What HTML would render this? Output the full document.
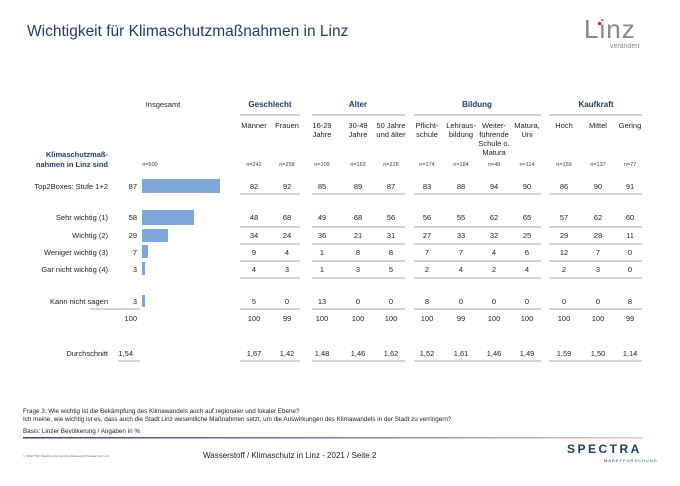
<!DOCTYPE html>
<html><head><meta charset="utf-8"><style>
body{margin:0;background:#fff;width:680px;height:481px;overflow:hidden}
svg text{font-family:"Liberation Sans",sans-serif}
</style></head><body>
<svg width="680" height="481" viewBox="0 0 680 481" xmlns="http://www.w3.org/2000/svg">
<defs><linearGradient id="g" x1="0" x2="1"><stop offset="0" stop-color="#2d4a7c"/><stop offset="0.6" stop-color="#8a8fb0"/><stop offset="1" stop-color="#e8c8d0"/></linearGradient></defs>
<text x="27" y="36" font-size="15.5" fill="#1f3b6e">Wichtigkeit für Klimaschutzmaßnahmen in Linz</text>
<text x="584" y="38" font-size="26" fill="#888" letter-spacing="1">Linz</text>
<rect x="598" y="22" width="3" height="3" fill="#d0206a"/>
<text x="610" y="48" font-size="7" fill="#888">verändert</text>

<g font-size="8" fill="#1f3b6e" font-weight="bold" text-anchor="middle">
<text x="270" y="107">Geschlecht</text><text x="358" y="107">Alter</text><text x="477" y="107">Bildung</text><text x="596" y="107">Kaufkraft</text>
</g>
<text x="163" y="107" font-size="7.5" fill="#222" text-anchor="middle">Insgesamt</text>
<g stroke="#aaa" stroke-width="1">
<line x1="240" x2="300" y1="115" y2="115"/><line x1="312" x2="405" y1="115" y2="115"/><line x1="414" x2="541" y1="115" y2="115"/><line x1="549" x2="642" y1="115" y2="115"/>
</g>
<g font-size="7.5" fill="#222" text-anchor="middle">
<text x="254" y="128">Männer</text><text x="287" y="128">Frauen</text>
<text x="322" y="128">16-29</text><text x="322" y="137">Jahre</text>
<text x="358" y="128">30-49</text><text x="358" y="137">Jahre</text>
<text x="391" y="128">50 Jahre</text><text x="391" y="137">und älter</text>
<text x="427" y="128">Pflicht-</text><text x="427" y="137">schule</text>
<text x="461" y="128">Lehraus-</text><text x="461" y="137">bildung</text>
<text x="494" y="128">Weiter-</text><text x="494" y="137">führende</text><text x="494" y="146">Schule o.</text><text x="494" y="155">Matura</text>
<text x="527" y="128">Matura,</text><text x="527" y="137">Uni</text>
<text x="564" y="128">Hoch</text><text x="598" y="128">Mittel</text><text x="630" y="128">Gering</text>
</g>
<g font-size="7.5" fill="#1f3b6e" font-weight="bold" text-anchor="end">
<text x="108" y="157">Klimaschutzmaß-</text><text x="108" y="167">nahmen in Linz sind</text>
</g>
<g font-size="5.5" fill="#444" text-anchor="middle">
<text x="150" y="166">n=500</text>
<text x="254" y="166">n=242</text><text x="287" y="166">n=258</text><text x="322" y="166">n=109</text><text x="358" y="166">n=163</text><text x="391" y="166">n=228</text><text x="427" y="166">n=174</text><text x="461" y="166">n=184</text><text x="494" y="166">n=48</text><text x="527" y="166">n=114</text><text x="564" y="166">n=159</text><text x="598" y="166">n=137</text><text x="630" y="166">n=77</text>
</g>
<g font-size="7.5" fill="#222" text-anchor="end">
<text x="108" y="189">Top2Boxes: Stufe 1+2</text>
<text x="108" y="220">Sehr wichtig (1)</text>
<text x="108" y="238">Wichtig (2)</text>
<text x="108" y="255">Weniger wichtig (3)</text>
<text x="108" y="272">Gar nicht wichtig (4)</text>
<text x="108" y="304">Kann nicht sagen</text>
<text x="108" y="356">Durchschnitt</text>
<text x="137" y="189">87</text><text x="137" y="220">58</text><text x="137" y="238">29</text><text x="137" y="255">7</text><text x="137" y="272">3</text><text x="137" y="304">3</text><text x="137" y="321">100</text><text x="133" y="356">1,54</text>
</g>
<g fill="#7ea6d6">
<rect x="142" y="179" width="78" height="14"/>
<rect x="142" y="210" width="52" height="15"/>
<rect x="142" y="229" width="26" height="13"/>
<rect x="142" y="245" width="6" height="13"/>
<rect x="142" y="262" width="3" height="13"/>
<rect x="142" y="295" width="3" height="12"/>
</g>
<g stroke="#aaa" stroke-width="1">
<line x1="90" x2="140" y1="309" y2="309"/><line x1="118" x2="140" y1="361" y2="361"/>
<g id="ln">
<line x1="240" x2="300" y1="194" y2="194"/><line x1="312" x2="405" y1="194" y2="194"/><line x1="414" x2="541" y1="194" y2="194"/><line x1="549" x2="642" y1="194" y2="194"/>
</g>
<use href="#ln" y="33"/><use href="#ln" y="50"/><use href="#ln" y="67"/><use href="#ln" y="84"/><use href="#ln" y="115"/><use href="#ln" y="167"/>
</g>
<g font-size="7.5" fill="#222" text-anchor="middle">
<g transform="translate(0,189)"><text x="254">82</text><text x="287">92</text><text x="322">85</text><text x="358">89</text><text x="391">87</text><text x="427">83</text><text x="461">88</text><text x="494">94</text><text x="527">90</text><text x="564">86</text><text x="598">90</text><text x="630">91</text></g>
<g transform="translate(0,220)"><text x="254">48</text><text x="287">68</text><text x="322">49</text><text x="358">68</text><text x="391">56</text><text x="427">56</text><text x="461">55</text><text x="494">62</text><text x="527">65</text><text x="564">57</text><text x="598">62</text><text x="630">60</text></g>
<g transform="translate(0,238)"><text x="254">34</text><text x="287">24</text><text x="322">36</text><text x="358">21</text><text x="391">31</text><text x="427">27</text><text x="461">33</text><text x="494">32</text><text x="527">25</text><text x="564">29</text><text x="598">28</text><text x="630">11</text></g>
<g transform="translate(0,255)"><text x="254">9</text><text x="287">4</text><text x="322">1</text><text x="358">8</text><text x="391">8</text><text x="427">7</text><text x="461">7</text><text x="494">4</text><text x="527">6</text><text x="564">12</text><text x="598">7</text><text x="630">0</text></g>
<g transform="translate(0,272)"><text x="254">4</text><text x="287">3</text><text x="322">1</text><text x="358">3</text><text x="391">5</text><text x="427">2</text><text x="461">4</text><text x="494">2</text><text x="527">4</text><text x="564">2</text><text x="598">3</text><text x="630">0</text></g>
<g transform="translate(0,304)"><text x="254">5</text><text x="287">0</text><text x="322">13</text><text x="358">0</text><text x="391">0</text><text x="427">8</text><text x="461">0</text><text x="494">0</text><text x="527">0</text><text x="564">0</text><text x="598">0</text><text x="630">8</text></g>
<g transform="translate(0,321)"><text x="254">100</text><text x="287">99</text><text x="322">100</text><text x="358">100</text><text x="391">100</text><text x="427">100</text><text x="461">99</text><text x="494">100</text><text x="527">100</text><text x="564">100</text><text x="598">100</text><text x="630">99</text></g>
<g transform="translate(0,356)"><text x="254">1,67</text><text x="287">1,42</text><text x="322">1,48</text><text x="358">1,46</text><text x="391">1,62</text><text x="427">1,52</text><text x="461">1,61</text><text x="494">1,46</text><text x="527">1,49</text><text x="564">1,59</text><text x="598">1,50</text><text x="630">1,14</text></g>
</g>
<g font-size="6.3" fill="#222">
<text x="23" y="413">Frage 3: Wie wichtig ist die Bekämpfung des Klimawandels auch auf regionaler und lokaler Ebene?</text>
<text x="23" y="421">Ich meine, wie wichtig ist es, dass auch die Stadt Linz wesentliche Maßnahmen setzt, um die Auswirkungen des Klimawandels in der Stadt zu verringern?</text>
<text x="23" y="433">Basis: Linzer Bevölkerung / Angaben in %</text>
</g>
<rect x="23" y="437" width="620" height="1.5" fill="url(#g)"/>
<text x="23" y="457" font-size="3" fill="#666">© SPECTRA Marktforschung 2021 Wasserstoff Klimaschutz Linz</text>
<text x="203" y="458" font-size="8" fill="#222">Wasserstoff / Klimaschutz in Linz - 2021  /  Seite  2</text>
<text x="567" y="453" font-size="12" font-weight="bold" fill="#1f3b6e" letter-spacing="2.5">SPECTRA</text>
<text x="604" y="462" font-size="4" fill="#1f3b6e" letter-spacing="1">MARKTFORSCHUNG</text>
</svg>
</body></html>
